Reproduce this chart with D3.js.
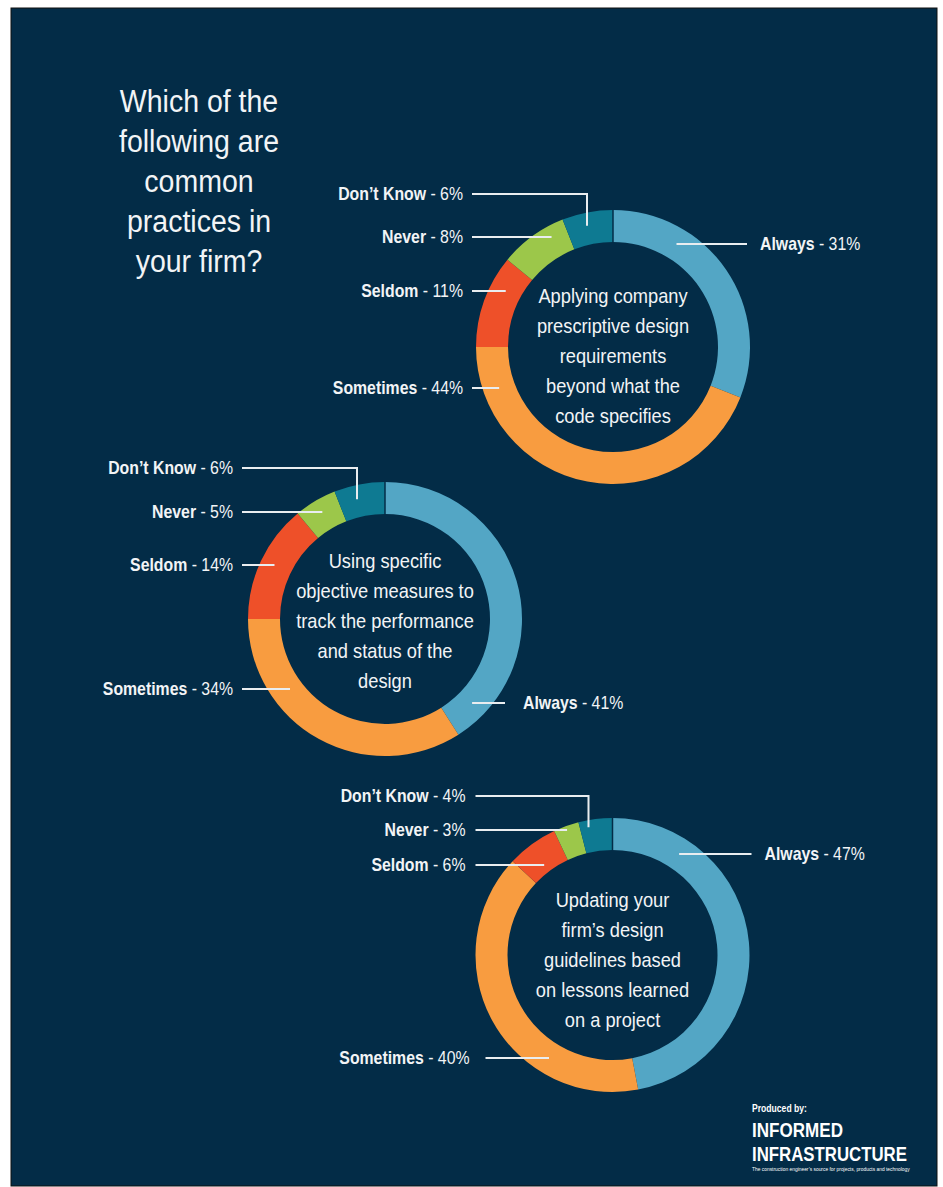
<!DOCTYPE html>
<html>
<head>
<meta charset="utf-8">
<script src="https://cdn.jsdelivr.net/npm/d3@7"></script>
<style>
	body { margin: 0; background: #fff; }
	svg { display: block; }
	text { font-family: "Liberation Sans", Arial, sans-serif; fill: #f2f4f6; }
</style>
</head>
<body>
<script>
/* survey answers, clockwise from 12 o'clock */
const categories = ["Always", "Sometimes", "Seldom", "Never", "Don\u2019t Know"];
const categoryColors = ["#53a6c5", "#f89c40", "#ee5029", "#9cc74a", "#0e7a92"];

const titleLines = ["Which of the", "following are", "common", "practices in", "your firm?"];

const applyingLines = ["Applying company", "prescriptive design", "requirements", "beyond what the", "code specifies"];
const measuresLines = ["Using specific", "objective measures to", "track the performance", "and status of the", "design"];
const updatingLines = ["Updating your", "firm\u2019s design", "guidelines based", "on lessons learned", "on a project"];

const applyingValues = [31, 44, 11, 8, 6];
const measuresValues = [41, 34, 14, 5, 6];
const updatingValues = [47, 40, 6, 3, 4];

/* layout only: where each donut sits and where its call-outs go (relative to the donut centre) */
const panels = [
	{ lines: applyingLines, values: applyingValues, cx: 613, cy: 347, textShift: 16,
		labels: [
			{ side: "right", dy: -103, x1: 134, tx: 147 },
			{ side: "left", dy: 41, x0: -141, tx: -150 },
			{ side: "left", dy: -56, x0: -141, tx: -150 },
			{ side: "left", dy: -110, x0: -141, tx: -150, r: 126 },
			{ side: "left", dy: -153, x0: -141, tx: -150, elbow: -26, r: 124 }
		] },
	{ lines: measuresLines, values: measuresValues, cx: 385, cy: 619, textShift: 9,
		labels: [
			{ side: "right", dy: 84, x1: 120, tx: 138 },
			{ side: "left", dy: 70, x0: -143, tx: -152, r: 118 },
			{ side: "left", dy: -54, x0: -143, tx: -152, r: 123 },
			{ side: "left", dy: -107, x0: -143, tx: -152, r: 124 },
			{ side: "left", dy: -151, x0: -143, tx: -152, elbow: -28, r: 123 }
		] },
	{ lines: updatingLines, values: updatingValues, cx: 612.5, cy: 955, textShift: 12,
		labels: [
			{ side: "right", dy: -101, x1: 139, tx: 152 },
			{ side: "left", dy: 103, x0: -127, tx: -143 },
			{ side: "left", dy: -90, x0: -137, tx: -147, r: 113 },
			{ side: "left", dy: -125, x0: -137, tx: -147, r: 133 },
			{ side: "left", dy: -159, x0: -137, tx: -147, elbow: -24, r: 130 }
		] }
];

const W = 943, H = 1187;
const BG = "#032c47";
const OUTER = 137, INNER = 105, LEADER_R = 121;

const color = d3.scaleOrdinal(categories, categoryColors);
const pie = d3.pie().sort(null).value(d => d);
const arc = d3.arc().innerRadius(INNER).outerRadius(OUTER);

const svg = d3.select("body").append("svg")
	.attr("width", W)
	.attr("height", H);

/* no narrow face is installed, so squeeze a regular one horizontally */
function narrowText(parent, x, y, sx, anchor) {
	return parent.append("g")
		.attr("transform", `translate(${x},${y}) scale(${sx},1)`)
		.append("text")
			.attr("text-anchor", anchor || "start");
}

svg.append("rect")
	.attr("x", 11).attr("y", 8)
	.attr("width", 926).attr("height", 1178)
	.attr("fill", BG)
	.attr("stroke", "#111").attr("stroke-width", 1);

/* question */
const title = svg.append("g");
titleLines.forEach((line, i) => {
	narrowText(title, 199, 112 + i * 40, 0.92, "middle")
		.style("font-size", "31px")
		.text(line);
});

function drawPanel(p) {
	const g = svg.append("g").attr("transform", `translate(${p.cx},${p.cy})`);
	const slices = pie(p.values);

	g.selectAll("path.slice")
		.data(slices)
		.join("path")
			.attr("class", "slice")
			.attr("d", arc)
			.attr("fill", (d, i) => color(categories[i]));

	/* thin seam where "Always" starts */
	g.append("line")
		.attr("x1", 0).attr("x2", 0)
		.attr("y1", -OUTER).attr("y2", -INNER)
		.attr("stroke", BG).attr("stroke-width", 1.5);

	p.lines.forEach((line, i) => {
		narrowText(g, 0, p.textShift + (i - 2) * 30, 0.87, "middle")
			.style("font-size", "21px")
			.text(line);
	});

	const leaders = g.append("g")
		.attr("fill", "none")
		.attr("stroke", "#e9edf0")
		.attr("stroke-width", 2);

	p.labels.forEach((l, i) => {
		const r = l.r || LEADER_R;
		let d;
		if (l.elbow !== undefined) {
			const ey = -Math.sqrt(r * r - l.elbow * l.elbow);
			d = `M${l.x0},${l.dy}H${l.elbow}V${ey}`;
		} else {
			const ex = Math.sqrt(Math.max(r * r - l.dy * l.dy, 0));
			d = l.side === "left" ? `M${l.x0},${l.dy}H${-ex}` : `M${ex},${l.dy}H${l.x1}`;
		}
		leaders.append("path").attr("d", d);

		const t = narrowText(g, l.tx, l.dy, 0.88, l.side === "left" ? "end" : "start")
			.attr("dy", "0.36em")
			.style("font-size", "18px");
		t.append("tspan").style("font-weight", "bold").text(categories[i]);
		t.append("tspan").text(` - ${p.values[i]}%`);
	});
}

panels.forEach(drawPanel);

/* producer mark, each line squeezed to the width it has in the print */
const logoLines = [
	{ text: "Produced by:", y: 1112, size: 11, weight: "bold", width: 55 },
	{ text: "INFORMED", y: 1137, size: 21, weight: "bold", width: 91 },
	{ text: "INFRASTRUCTURE", y: 1161, size: 21, weight: "bold", width: 155 },
	{ text: "The construction engineer\u2019s source for projects, products and technology", y: 1171, size: 5, weight: "normal", width: 158 }
];
logoLines.forEach(l => {
	const t = narrowText(svg, 752, l.y, 1)
		.style("font-size", l.size + "px")
		.style("font-weight", l.weight)
		.style("fill", "#fff")
		.text(l.text);
	const len = t.node().getComputedTextLength();
	d3.select(t.node().parentNode).attr("transform", `translate(752,${l.y}) scale(${l.width / len},1)`);
});
</script>
</body>
</html>
